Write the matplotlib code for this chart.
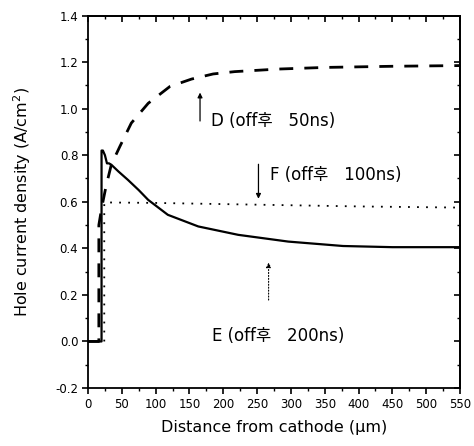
import matplotlib
matplotlib.use("Agg")
import matplotlib.pyplot as plt
from matplotlib.ticker import MultipleLocator

plt.rcParams['font.family'] = ['DejaVu Sans', 'Noto Sans CJK KR']
plt.rcParams['mathtext.fontset'] = 'dejavusans'

# Curve D (50 ns after turn-off) - dashed
d_x = [0, 16, 16, 20, 22, 26.6, 34.5, 47, 64, 89, 121, 153, 185, 217, 281, 350, 450, 550]
d_y = [0, 0, 0.5, 0.57, 0.6, 0.666, 0.76, 0.837, 0.938, 1.023, 1.095, 1.127, 1.149, 1.159, 1.17, 1.177, 1.182, 1.185]

# Curve E (200 ns after turn-off) - solid
e_x = [0, 20, 20, 22, 25, 28, 31, 34.5, 45, 59, 75, 89, 118, 163, 222, 296, 377, 450, 550]
e_y = [0, 0, 0.82, 0.82, 0.80, 0.765, 0.765, 0.759, 0.73, 0.694, 0.65, 0.608, 0.544, 0.494, 0.458, 0.429, 0.41, 0.405, 0.405]

# Curve F (100 ns after turn-off) - dotted
f_x = [24, 24, 30, 100, 200, 300, 400, 550]
f_y = [0, 0.595, 0.597, 0.595, 0.59, 0.585, 0.58, 0.575]

labels = ["D (off후   50ns)", "F (off후   100ns)", "E (off후   200ns)"]
xticks = [0, 50, 100, 150, 200, 250, 300, 350, 400, 450, 500, 550]
yticks = [-0.2, 0.0, 0.2, 0.4, 0.6, 0.8, 1.0, 1.2, 1.4]

fig = plt.figure(figsize=(4.74, 4.46), dpi=100)
ax = fig.add_axes([0.1857, 0.130, 0.7848, 0.8352])

ax.plot(d_x, d_y, color='black', lw=2.0, linestyle=(0, (5, 4)))
ax.plot(e_x, e_y, color='black', lw=1.6, linestyle='-')
ax.plot(f_x, f_y, color='black', lw=1.3, linestyle=(0, (1, 4)))

ax.set_xlim(0, 550)
ax.set_ylim(-0.2, 1.4)
ax.set_xticks(xticks)
ax.set_yticks(yticks)
ax.set_yticklabels([f"{v:.1f}" for v in yticks])
ax.xaxis.set_minor_locator(MultipleLocator(25))
ax.yaxis.set_minor_locator(MultipleLocator(0.1))
ax.tick_params(which='major', direction='out', length=4, width=1.2, labelsize=8.5, pad=3)
ax.tick_params(which='minor', direction='out', length=2.5, width=1.0)
for s in ax.spines.values():
    s.set_linewidth(1.3)

top = ax.secondary_xaxis('top')
top.set_xticks(xticks)
top.xaxis.set_minor_locator(MultipleLocator(25))
top.tick_params(which='major', direction='in', length=4, width=1.2, labeltop=False)
top.tick_params(which='minor', direction='in', length=2.5, width=1.0)
top.spines['top'].set_linewidth(1.3)
right = ax.secondary_yaxis('right')
right.set_yticks(yticks)
right.yaxis.set_minor_locator(MultipleLocator(0.1))
right.tick_params(which='major', direction='in', length=4, width=1.2, labelright=False)
right.tick_params(which='minor', direction='in', length=2.5, width=1.0)
right.spines['right'].set_linewidth(1.3)

ax.set_xlabel("Distance from cathode (\u03bcm)", fontsize=11.5, labelpad=7)
ax.set_ylabel("Hole current density (A/cm$^2$)", fontsize=11.5, labelpad=16)

arrowprops = dict(arrowstyle='-|>', color='black', lw=0.9, mutation_scale=7)
ax.annotate("", xy=(165.6, 1.081), xytext=(165.6, 0.935), arrowprops=arrowprops)
ax.text(182, 0.948, labels[0], fontsize=12, va='center', ha='left')
ax.annotate("", xy=(252, 0.601), xytext=(252, 0.773), arrowprops=arrowprops)
ax.text(269, 0.716, labels[1], fontsize=12, va='center', ha='left')
ax.annotate("", xy=(267, 0.351), xytext=(267, 0.166),
            arrowprops=dict(arrowstyle='-|>', color='black', lw=0.8, mutation_scale=7, linestyle=':'))
ax.text(183, 0.024, labels[2], fontsize=12, va='center', ha='left')

fig.savefig("out.png", dpi=100)
